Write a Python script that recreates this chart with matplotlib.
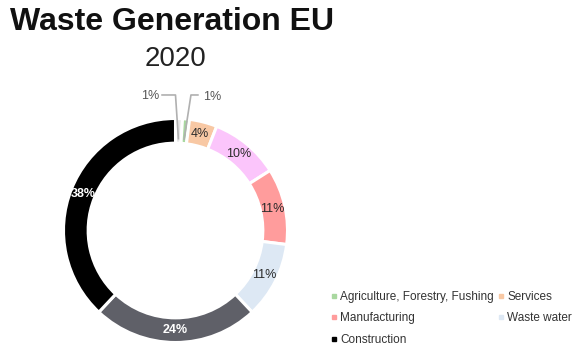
import numpy as np
import matplotlib.pyplot as plt
from matplotlib.lines import Line2D

plt.rcParams['font.family'] = ['Liberation Sans', 'DejaVu Sans']

# Data
sectors = ['Energy', 'Agriculture, Forestry, Fushing', 'Services', 'Households',
           'Manufacturing', 'Waste water', 'Mining', 'Construction']
shares = [1, 1, 4, 10, 11, 11, 24, 38]
colors = ['#e6e6e6', '#a9d8a0', '#f8c8a4', '#fbc5fb', '#ff9c9c',
          '#dde8f4', '#5f6068', '#000000']
legend_items = ['Agriculture, Forestry, Fushing', 'Manufacturing', 'Construction',
                'Services', 'Waste water']

W, H = 575, 346
fig = plt.figure(figsize=(W / 100, H / 100), dpi=100)

# donut centre at (175.5, 230.5) px, outer radius 112 px
cx, cy, R = 175.5, 230.5, 112
half = 150
ax = fig.add_axes([(cx - half) / W, (H - cy - half) / H, 2 * half / W, 2 * half / H])

wedges, _ = ax.pie(shares, colors=colors, startangle=90, counterclock=False,
                   radius=1.0,
                   wedgeprops=dict(width=0.22, edgecolor='white', linewidth=2.2))
ax.set_xlim(-half / R, half / R)
ax.set_ylim(-half / R, half / R)
ax.set_aspect('equal')
ax.axis('off')

# labels inside the ring
for w, val in zip(wedges, shares):
    ang = np.deg2rad((w.theta1 + w.theta2) / 2)
    if val < 2:
        continue
    x, y = 0.885 * np.cos(ang), 0.885 * np.sin(ang)
    dark = val >= 20
    ax.text(x, y, f'{val}%', ha='center', va='center', fontsize=9,
            color='white' if dark else '#2a2a2a',
            fontweight='bold' if dark else 'normal')

# small slices: labels outside with leader lines
label_pos = [(-0.228, 1.205), (0.326, 1.19)]
elbows = [(0.0, 1.21), (0.138, 1.21)]
line_start = [(-0.12, 1.21), (0.2, 1.21)]
small = [i for i, v in enumerate(shares) if v < 2]
for k, i in enumerate(small):
    w = wedges[i]
    ang = np.deg2rad((w.theta1 + w.theta2) / 2)
    ax_, ay_ = 0.82 * np.cos(ang), 0.82 * np.sin(ang)
    xs = [line_start[k][0], elbows[k][0], ax_]
    ys = [line_start[k][1], elbows[k][1], ay_]
    ax.plot(xs, ys, color='#b0b0b0', lw=1.2, clip_on=False)
    ax.text(label_pos[k][0], label_pos[k][1], f'{shares[i]}%', ha='center',
            va='center', fontsize=9, color='#555555')

# titles
fig.text(10 / W, 1 - 22 / H, 'Waste Generation EU', ha='left', va='center',
         fontsize=23, fontweight='bold', color='#111111')
fig.text(175 / W, 1 - 59 / H, '2020', ha='center', va='center',
         fontsize=20, color='#222222')

# legend (only the visible entries)
handles = []
for name in legend_items:
    c = colors[sectors.index(name)]
    handles.append(Line2D([], [], marker='s', linestyle='none', markersize=3.5,
                          markerfacecolor=c, markeredgecolor=c, label=name))
fig.legend(handles=handles, ncol=2, loc='upper left',
           bbox_to_anchor=(330 / W, 1 - 291 / H), frameon=False,
           fontsize=8.5, handlelength=0.6, handletextpad=0.25,
           columnspacing=0.3, labelspacing=0.8, labelcolor='#333333',
           borderaxespad=0, borderpad=0)

fig.savefig('out.png', dpi=100)
